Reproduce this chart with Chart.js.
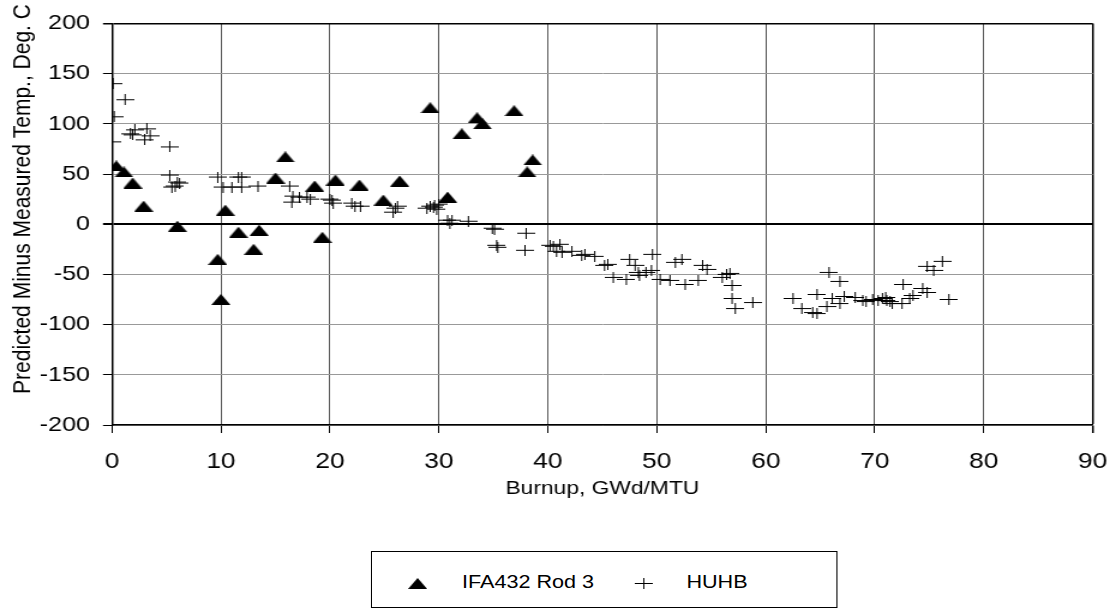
<!DOCTYPE html>
<html>
<head>
<meta charset="utf-8">
<script src="https://cdn.jsdelivr.net/npm/chart.js@4.4.0/dist/chart.umd.min.js"></script>
<style>
  html, body { margin: 0; padding: 0; background: #fff; overflow: hidden; }
  /* the original picture is stretched sideways, so the whole chart is too */
  #wrap { position: relative; width: 924px; height: 613px; transform: scaleX(1.2); transform-origin: 0 0; }
  #legend { position: absolute; left: 309px; top: 551px; width: 389px; height: 57px;
            border: 1px solid #000; box-sizing: border-box; background: #fff;
            font-family: 'Liberation Sans', Arial, sans-serif; font-size: 18px; color: #000; }
  #legend canvas, #legend span { position: absolute; }
</style>
</head>
<body>
<div id="wrap">
  <canvas id="chart"></canvas>
  <div id="legend"></div>
</div>
<script>
// IFA432 Rod 3 (triangles)
const ifaBurnup = [0.4, 1.1, 1.9, 2.9, 6.0, 9.7, 10.0, 10.4, 11.6, 13.0, 13.5, 15.0, 15.9, 18.6,
                   19.3, 20.5, 22.7, 24.9, 26.4, 29.2, 30.8, 32.1, 33.5, 34.0, 36.9, 38.1, 38.6];
const ifaDelta  = [58, 52, 41, 18, -2, -35, -75, 14, -8, -25, -6, 46, 67, 38,
                   -13, 44, 39, 24, 43, 116, 27, 90, 106, 100, 113, 52, 64];

// HUHB (crosses)
const huhbBurnup = [0.1, 1.2, 0.2, 0.0, 1.7, 2.1, 3.2, 3.5, 3.0, 1.9, 5.3, 5.3, 5.8, 6.2, 5.5, 6.0,
                    9.7, 10.2, 11.0, 11.6, 11.9, 11.9, 13.4, 16.3, 16.6, 16.5, 17.2, 17.9, 18.2,
                    20.0, 20.2, 20.3, 22.0, 22.3, 22.8, 26.0, 25.8, 26.2,
                    28.9, 29.2, 29.5, 29.6, 29.8, 30.0, 30.8, 31.2, 31.0, 32.7, 34.9, 35.1, 38.0,
                    35.3, 35.4, 37.9, 40.2, 40.5, 41.1, 40.8, 41.3, 42.2, 43.1, 43.4, 44.3,
                    45.2, 45.5, 46.0, 47.2, 47.5, 48.0, 48.3, 48.4, 49.0, 49.5, 49.6, 50.3, 51.2,
                    51.7, 52.3, 52.6, 53.8, 54.2, 54.6, 56.0, 56.4, 56.7, 56.9, 56.9, 57.2, 58.8,
                    62.5, 63.3, 64.3, 64.7, 65.6, 64.7, 65.8, 66.8, 66.1, 66.8, 67.2, 68.2, 68.9,
                    69.2, 69.8, 70.3, 70.7, 71.0, 71.1, 71.4, 71.6, 72.6, 72.5, 73.2, 73.5, 74.4,
                    74.8, 74.8, 75.4, 76.2, 76.8];
const huhbDelta  = [140, 124, 107, 82, 90, 94, 95, 88, 84, 89, 77, 49, 38, 41, 37, 42,
                    47, 37, 37, 47, 47, 37, 38, 38, 28, 22, 27, 27, 25,
                    25, 24, 21, 21, 18, 18, 16, 12, 18,
                    16, 18, 17, 19, 15, 20, 4, 4, 1, 3, -4, -5, -9,
                    -21, -23, -26, -21, -22, -20, -27, -28, -27, -31, -30, -32,
                    -41, -40, -53, -55, -35, -41, -48, -51, -48, -46, -30, -55, -56,
                    -38, -35, -60, -56, -41, -45, -53, -50, -49, -61, -74, -84, -78,
                    -74, -84, -88, -89, -82, -70, -48, -57, -74, -79, -72, -73, -76,
                    -77, -75, -76, -74, -73, -76, -77, -79, -60, -79, -74, -71, -64,
                    -68, -42, -46, -37, -75];

const xTicks = [0, 90, 10];      // min, max, step
const yTicks = [-200, 200, 50];
const xTitle = 'Burnup, GWd/MTU';
const yTitle = 'Predicted Minus Measured Temp., Deg. C';
const seriesNames = ['IFA432 Rod 3', 'HUHB'];

const FONT = "'Liberation Sans', Arial, sans-serif";

function makeTriangle() {
    const c = document.createElement('canvas');
    c.width = 16; c.height = 11;
    const g = c.getContext('2d');
    g.fillStyle = '#000';
    g.beginPath();
    g.moveTo(0, 11); g.lineTo(8, 0); g.lineTo(16, 11);
    g.closePath();
    g.fill();
    return c;
}

function makeCross() {
    const c = document.createElement('canvas');
    c.width = 15; c.height = 11;
    const g = c.getContext('2d');
    g.fillStyle = '#000';
    g.fillRect(0, 5, 15, 1);
    g.fillRect(7, 0, 1, 11);
    return c;
}

const toPoints = (xs, ys) => xs.map((x, i) => ({ x: x, y: ys[i] }));

// rotated y title sits a little above the middle of the axis in the original
const yTitlePlugin = {
    id: 'yTitle',
    afterDraw(chart) {
        const ctx = chart.ctx;
        ctx.save();
        ctx.translate(19, 199);
        ctx.rotate(-Math.PI / 2);
        ctx.font = '21px ' + FONT;
        ctx.fillStyle = '#000';
        ctx.textAlign = 'center';
        ctx.textBaseline = 'middle';
        ctx.fillText(yTitle, 0, 0);
        ctx.restore();
    }
};

new Chart(document.getElementById('chart'), {
    type: 'scatter',
    data: {
        datasets: [{
            label: seriesNames[0],
            data: toPoints(ifaBurnup, ifaDelta),
            pointStyle: makeTriangle(),
            pointRadius: 6,
            pointHoverRadius: 6
        }, {
            label: seriesNames[1],
            data: toPoints(huhbBurnup, huhbDelta),
            pointStyle: makeCross(),
            pointRadius: 6,
            pointHoverRadius: 6
        }]
    },
    options: {
        responsive: true,
        maintainAspectRatio: false,
        animation: false,
        events: [],
        layout: { padding: { left: 0, top: 18, right: 13.4, bottom: 112.6 } },
        plugins: {
            legend: { display: false },
            tooltip: { enabled: false }
        },
        scales: {
            x: {
                type: 'linear',
                min: xTicks[0],
                max: xTicks[1],
                afterFit: s => { s.height = 75.4; s.paddingLeft = 0; s.paddingRight = 0; },
                ticks: { stepSize: xTicks[2], padding: 15.8, color: '#000', font: { family: FONT, size: 22 } },
                grid: {
                    color: c => (c.tick && c.tick.value === xTicks[1]) ? '#000' : '#555',
                    lineWidth: c => (c.tick && c.tick.value === xTicks[1]) ? 1.5 : 1,
                    tickLength: 8,
                    tickColor: '#000'
                },
                border: { color: '#000', width: 1.5 },
                title: { display: true, text: xTitle, color: '#000', padding: 0, font: { family: FONT, size: 19 } }
            },
            y: {
                min: yTicks[0],
                max: yTicks[1],
                afterFit: s => { s.width = 93.3; },
                ticks: { stepSize: yTicks[2], padding: 10.8, color: '#000', font: { family: FONT, size: 21 } },
                grid: {
                    color: c => (c.tick && (c.tick.value === 0 || c.tick.value === yTicks[1])) ? '#000' : '#999',
                    lineWidth: c => (c.tick && c.tick.value === 0) ? 2 : (c.tick && c.tick.value === yTicks[1] ? 1.5 : 1),
                    tickLength: 7.5,
                    tickColor: '#000'
                },
                border: { color: '#000', width: 1.5 }
            }
        }
    },
    plugins: [yTitlePlugin]
});

// legend box
const legend = document.getElementById('legend');
const items = [
    { marker: makeTriangle(), mx: 38, tx: 75, text: seriesNames[0] },
    { marker: makeCross(), mx: 226, tx: 262, text: seriesNames[1] }
];
items.forEach(it => {
    it.marker.style.left = (it.mx - it.marker.width / 2) + 'px';
    it.marker.style.top = (31 - it.marker.height / 2) + 'px';
    legend.appendChild(it.marker);
    const s = document.createElement('span');
    s.textContent = it.text;
    s.style.left = it.tx + 'px';
    s.style.top = '20px';
    legend.appendChild(s);
});
</script>
</body>
</html>
